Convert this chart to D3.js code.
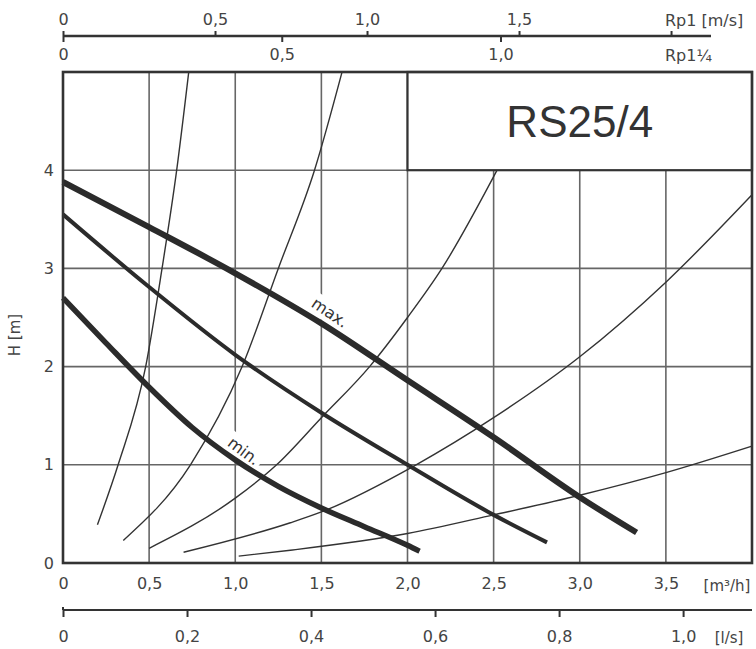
<!DOCTYPE html>
<html>
<head>
<meta charset="utf-8">
<script src="https://cdn.jsdelivr.net/npm/d3@7"></script>
<style>
  body { margin: 0; background: #fff; }
  svg { display: block; font-family: "DejaVu Sans", sans-serif; }
</style>
</head>
<body>
<svg id="chart" width="756" height="649"></svg>
<script>
// values
const flowTicks = [0, 0.5, 1.0, 1.5, 2.0, 2.5, 3.0, 3.5];   // m³/h
const headTicks = [0, 1, 2, 3, 4];                           // m
const litreTicks = [0, 0.2, 0.4, 0.6, 0.8, 1.0];            // l/s
const rp1Ticks = [0, 0.5, 1.0, 1.5, 2.0];                    // m/s in Rp1
const rp114Ticks = [0, 0.5, 1.0];                            // m/s in Rp1¼

// pump curves [Q m³/h, H m]
const pumpMax = [[0, 3.88], [0.5, 3.42], [1.0, 2.95], [1.5, 2.44], [2.0, 1.86], [2.5, 1.28], [3.0, 0.67], [3.33, 0.31]];
const pumpMid = [[0, 3.55], [0.5, 2.81], [1.0, 2.12], [1.5, 1.53], [2.0, 1.00], [2.5, 0.49], [2.81, 0.21]];
const pumpMin = [[0, 2.70], [0.25, 2.24], [0.5, 1.79], [0.75, 1.38], [1.0, 1.05], [1.25, 0.78], [1.5, 0.56], [1.75, 0.37], [2.0, 0.18], [2.07, 0.12]];

// system (pipe) curves
const sys1 = [[0.20, 0.39], [0.32, 1.0], [0.48, 2.0], [0.575, 3.0], [0.66, 4.0], [0.73, 5.0]];
const sys2 = [[0.35, 0.23], [0.74, 1.0], [1.04, 2.0], [1.25, 3.0], [1.46, 4.0], [1.62, 5.0]];
const sys3 = [[0.50, 0.15], [1.0, 0.66], [1.24, 1.0], [1.5, 1.48], [1.78, 2.0], [2.0, 2.5], [2.2, 3.0], [2.52, 4.0]];
const sys4 = [[0.70, 0.11], [1.32, 0.41], [1.5, 0.52], [2.05, 1.0], [2.5, 1.48], [3.0, 2.10], [3.5, 2.86], [4.0, 3.75]];
const sys5 = [[1.02, 0.07], [1.32, 0.13], [2.0, 0.30], [2.5, 0.49], [3.0, 0.69], [3.5, 0.92], [4.0, 1.19]];

// m/s -> m³/h for the two pipe sizes, and l/s -> m³/h
const rp1Factor = 1.765;
const rp114Factor = 2.54;
const litreFactor = 3.6;

const svg = d3.select('#chart');
const ink = '#333';
const gridInk = '#666';

const x = d3.scaleLinear().domain([0, 4]).range([63, 752]);
const y = d3.scaleLinear().domain([0, 5]).range([563, 72]);
const xRp1 = d3.scaleLinear().domain([0, 2]).range([x(0), x(2 * rp1Factor)]);
const xRp114 = d3.scaleLinear().domain([0, 1]).range([x(0), x(rp114Factor)]);
const xLitre = d3.scaleLinear().domain([0, 4 / litreFactor]).range([x(0), x(4)]);

const comma = (d) => (d === 0 ? '0' : d3.format('.1f')(d).replace('.', ','));

// grid
const grid = svg.append('g').attr('stroke', gridInk).attr('stroke-width', 1.6);
grid.selectAll('.vg').data(flowTicks.slice(1)).join('line')
  .attr('x1', (d) => x(d)).attr('x2', (d) => x(d))
  .attr('y1', y(0)).attr('y2', y(5));
grid.selectAll('.hg').data(headTicks.slice(1)).join('line')
  .attr('x1', x(0)).attr('x2', x(4))
  .attr('y1', (d) => y(d)).attr('y2', (d) => y(d));

const line = d3.line().x((d) => x(d[0])).y((d) => y(d[1])).curve(d3.curveMonotoneX);

// system curves
svg.append('g')
  .attr('fill', 'none').attr('stroke', ink).attr('stroke-width', 1.4)
  .selectAll('path')
  .data([sys1, sys2, sys3, sys4, sys5])
  .join('path')
  .attr('d', line);

// curve labels with white backing that hides grid + thin lines
function curveLabel(text, q, h, angle) {
  const g = svg.append('g')
    .attr('transform', `translate(${x(q)},${y(h)}) rotate(${angle})`);
  const t = g.append('text')
    .attr('text-anchor', 'middle').attr('dy', '0.35em')
    .attr('font-size', 16).attr('fill', ink)
    .text(text);
  const b = t.node().getBBox();
  g.insert('rect', 'text')
    .attr('x', b.x - 3).attr('y', b.y - 1)
    .attr('width', b.width + 6).attr('height', b.height + 2)
    .attr('fill', '#fff');
}
curveLabel('max.', 1.55, 2.55, 34);
curveLabel('min.', 1.05, 1.14, 37);

// pump curves
const pumps = [
  { pts: pumpMax, w: 6 },
  { pts: pumpMid, w: 4 },
  { pts: pumpMin, w: 5.5 },
];
svg.append('g')
  .attr('fill', 'none').attr('stroke', '#2b2b2b')
  .selectAll('path')
  .data(pumps)
  .join('path')
  .attr('stroke-width', (d) => d.w)
  .attr('d', (d) => line(d.pts));

// title box
svg.append('rect')
  .attr('x', x(2)).attr('y', y(5))
  .attr('width', x(4) - x(2)).attr('height', y(4) - y(5))
  .attr('fill', '#fff').attr('stroke', ink).attr('stroke-width', 2.2);
svg.append('text')
  .attr('x', (x(2) + x(4)) / 2).attr('y', 137)
  .attr('text-anchor', 'middle')
  .attr('font-family', '"Liberation Sans", Arial, sans-serif')
  .attr('font-size', 44).attr('fill', ink)
  .text('RS25/4');

// frame
svg.append('rect')
  .attr('x', x(0)).attr('y', y(5))
  .attr('width', x(4) - x(0)).attr('height', y(0) - y(5))
  .attr('fill', 'none').attr('stroke', ink).attr('stroke-width', 2.6);

function styleAxis(g) {
  g.select('.domain').remove();
  g.selectAll('line').attr('stroke', ink).attr('stroke-width', 2);
  g.selectAll('text').attr('fill', '#444').attr('font-size', 16)
    .attr('font-family', '"DejaVu Sans", sans-serif');
}

// y axis
svg.append('g')
  .attr('transform', `translate(${x(0)},0)`)
  .call(d3.axisLeft(y).tickValues(headTicks).tickSize(0).tickPadding(9).tickFormat(d3.format('d')))
  .call(styleAxis);
svg.append('text')
  .attr('transform', `translate(20,335) rotate(-90)`)
  .attr('text-anchor', 'middle').attr('font-size', 15).attr('fill', '#444')
  .text('H [m]');

// flow axis m³/h
svg.append('g')
  .attr('transform', `translate(0,${y(0)})`)
  .call(d3.axisBottom(x).tickValues(flowTicks).tickSize(0).tickPadding(15).tickFormat(comma))
  .call(styleAxis);
svg.append('text')
  .attr('x', 727).attr('y', 591).attr('text-anchor', 'middle')
  .attr('font-size', 15).attr('fill', '#444')
  .text('[m³/h]');

// l/s axis
const lps = svg.append('g').attr('transform', 'translate(0,610)');
lps.append('line').attr('x1', x(0)).attr('x2', x(4)).attr('stroke', ink).attr('stroke-width', 2.4);
lps.call(d3.axisBottom(xLitre).tickValues(litreTicks).tickSize(7).tickPadding(14).tickFormat(comma))
  .call(styleAxis);
lps.append('line').attr('x1', x(0)).attr('x2', x(0)).attr('y1', -3).attr('y2', 0).attr('stroke', ink).attr('stroke-width', 2);
svg.append('text')
  .attr('x', 729).attr('y', 643).attr('text-anchor', 'middle')
  .attr('font-size', 15).attr('fill', '#444')
  .text('[l/s]');

// velocity axes on top, sharing one line
const velAxis = svg.append('g').attr('transform', 'translate(0,36)');
velAxis.append('line').attr('x1', x(0)).attr('x2', 711).attr('stroke', ink).attr('stroke-width', 2.4);
velAxis.append('g')
  .call(d3.axisTop(xRp1).tickValues(rp1Ticks).tickSize(5).tickPadding(6)
    .tickFormat((d) => (d < 2 ? comma(d) : '')))
  .call(styleAxis);
velAxis.append('g')
  .call(d3.axisBottom(xRp114).tickValues(rp114Ticks).tickSize(6).tickPadding(7).tickFormat(comma))
  .call(styleAxis);
svg.append('text')
  .attr('x', 665).attr('y', 26).attr('font-size', 16).attr('fill', '#444')
  .text('Rp1 [m/s]');
svg.append('text')
  .attr('x', 665).attr('y', 61).attr('font-size', 16).attr('fill', '#444')
  .text('Rp1¼');
</script>
</body>
</html>
